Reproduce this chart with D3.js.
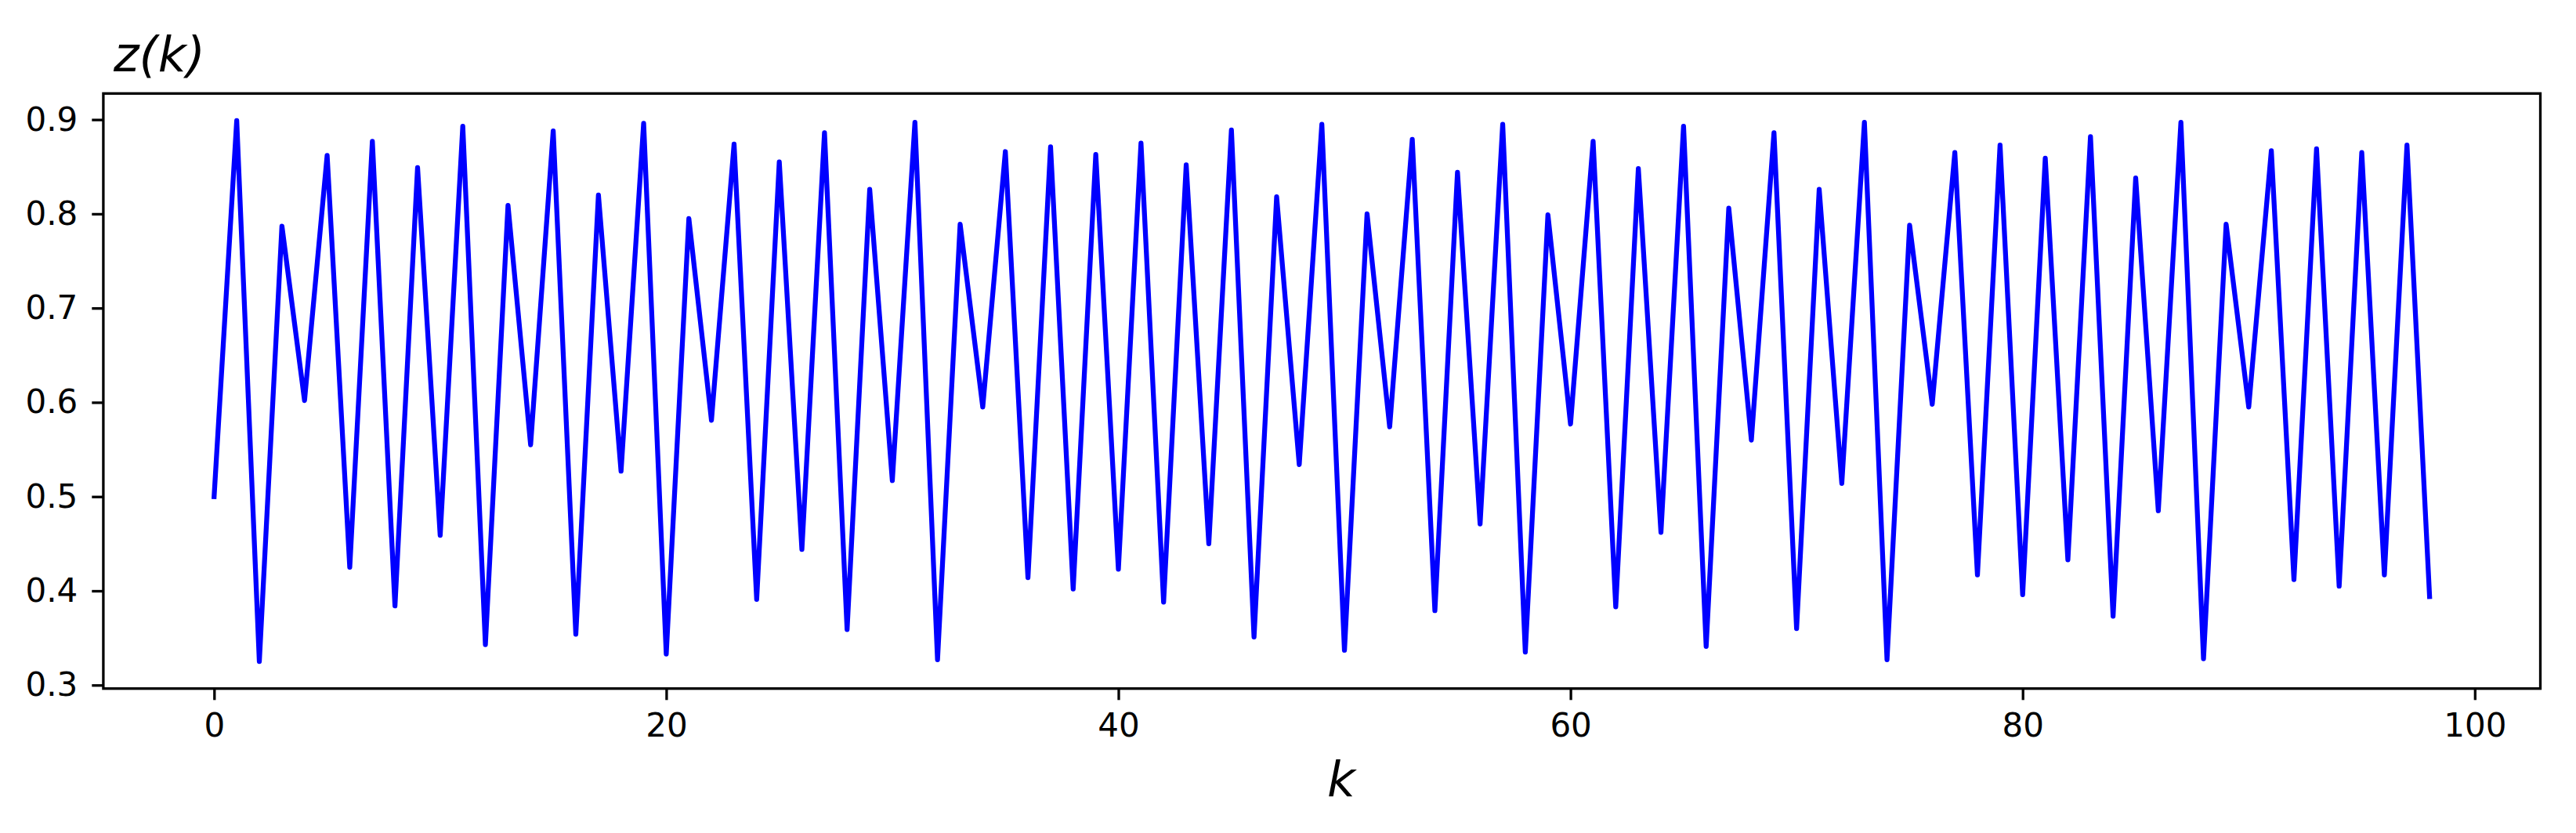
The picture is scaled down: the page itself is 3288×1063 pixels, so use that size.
<!DOCTYPE html>
<html>
<head>
<meta charset="utf-8">
<script src="https://cdn.jsdelivr.net/npm/d3@7"></script>
<style>
  html, body { margin: 0; padding: 0; background: #ffffff; }
  svg { display: block; }
</style>
</head>
<body>
<svg id="chart" width="3288" height="1063"></svg>
<script>
// ---- data ----
const kValues = d3.range(0, 99);
const zValues = [
  0.500, 0.899, 0.325, 0.787, 0.602, 0.862, 0.425, 0.877, 0.384, 0.849,
  0.459, 0.893, 0.343, 0.809, 0.555, 0.888, 0.354, 0.820, 0.527, 0.896,
  0.333, 0.795, 0.581, 0.874, 0.391, 0.855, 0.444, 0.886, 0.359, 0.826,
  0.517, 0.897, 0.327, 0.789, 0.595, 0.866, 0.414, 0.871, 0.402, 0.863,
  0.423, 0.875, 0.388, 0.852, 0.450, 0.889, 0.351, 0.818, 0.534, 0.895,
  0.337, 0.800, 0.574, 0.879, 0.379, 0.844, 0.471, 0.895, 0.335, 0.799,
  0.577, 0.877, 0.383, 0.848, 0.462, 0.893, 0.341, 0.806, 0.560, 0.886,
  0.360, 0.826, 0.514, 0.897, 0.327, 0.788, 0.598, 0.865, 0.417, 0.873,
  0.396, 0.859, 0.433, 0.882, 0.373, 0.838, 0.485, 0.897, 0.328, 0.789,
  0.595, 0.867, 0.412, 0.869, 0.405, 0.865, 0.417, 0.873, 0.394
];
const xTicks = [0, 20, 40, 60, 80, 100];
const yTicks = [0.3, 0.4, 0.5, 0.6, 0.7, 0.8, 0.9];
const yLabel = "z(k)";
const xLabel = "k";

// ---- layout ----
const plot = { left: 131.9, right: 3242.5, top: 119.3, bottom: 878.7 };
const fontTick = 42;
const fontLabel = 62;
const tickLen = 14.6;
const spineW = 3.3;

const svg = d3.select("#chart");

const xExt = d3.extent(kValues);
const yExt = d3.extent(zValues);
const xPad = (xExt[1] - xExt[0]) * 0.05;
const yPad = (yExt[1] - yExt[0]) * 0.05;

const x = d3.scaleLinear()
  .domain([xExt[0] - xPad, xExt[1] + xPad])
  .range([plot.left, plot.right]);
const y = d3.scaleLinear()
  .domain([yExt[0] - yPad, yExt[1] + yPad])
  .range([plot.bottom, plot.top]);

// data line
const line = d3.line()
  .x((d, i) => x(kValues[i]))
  .y(d => y(d));

svg.append("path")
  .datum(zValues)
  .attr("d", line)
  .attr("fill", "none")
  .attr("stroke", "#0000ff")
  .attr("stroke-width", 6.25)
  .attr("stroke-linejoin", "round")
  .attr("stroke-linecap", "square");

// axes
const xAxis = d3.axisBottom(x)
  .tickValues(xTicks)
  .tickFormat(d3.format("d"))
  .tickSize(tickLen)
  .tickSizeOuter(0)
  .tickPadding(17);

const yAxis = d3.axisLeft(y)
  .tickValues(yTicks)
  .tickFormat(d3.format(".1f"))
  .tickSize(tickLen)
  .tickSizeOuter(0)
  .tickPadding(18);

const gx = svg.append("g")
  .attr("transform", `translate(0,${plot.bottom})`)
  .call(xAxis);
const gy = svg.append("g")
  .attr("transform", `translate(${plot.left},0)`)
  .call(yAxis);

[gx, gy].forEach(g => {
  g.select(".domain").remove();
  g.selectAll(".tick line").attr("stroke", "#000").attr("stroke-width", spineW);
  g.selectAll(".tick text")
    .attr("fill", "#000")
    .style("font-family", "'DejaVu Sans', sans-serif")
    .style("font-size", fontTick + "px");
});

// spines
svg.append("rect")
  .attr("x", plot.left)
  .attr("y", plot.top)
  .attr("width", plot.right - plot.left)
  .attr("height", plot.bottom - plot.top)
  .attr("fill", "none")
  .attr("stroke", "#000")
  .attr("stroke-width", spineW)
  .attr("stroke-linejoin", "miter");

// labels
svg.append("text")
  .attr("x", 145)
  .attr("y", 91)
  .style("font-family", "'DejaVu Sans', sans-serif")
  .style("font-style", "italic")
  .style("font-size", fontLabel + "px")
  .attr("fill", "#000")
  .text(yLabel);

svg.append("text")
  .attr("x", 1712)
  .attr("y", 1016)
  .attr("text-anchor", "middle")
  .style("font-family", "'DejaVu Sans', sans-serif")
  .style("font-style", "italic")
  .style("font-size", fontLabel + "px")
  .attr("fill", "#000")
  .text(xLabel);
</script>
</body>
</html>
